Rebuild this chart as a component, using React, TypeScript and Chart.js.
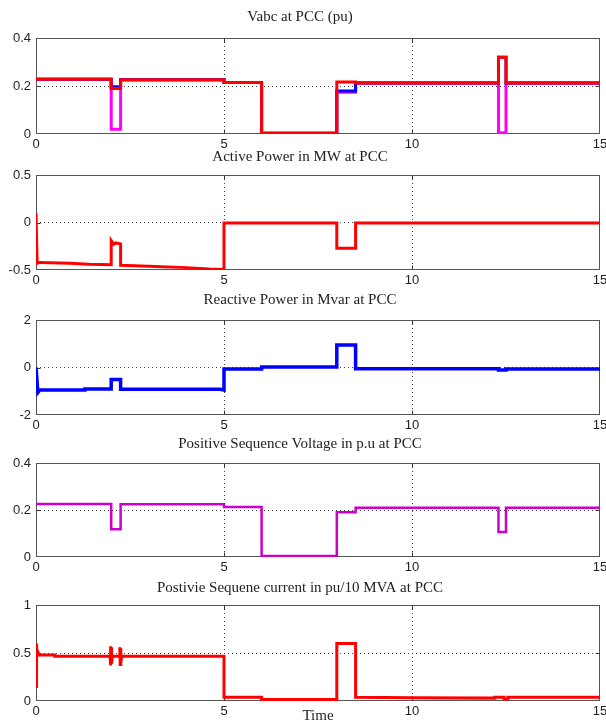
import { useEffect, useRef } from 'react';
import { Chart, registerables } from 'chart.js';

Chart.register(...registerables);

// ---------- data ----------
const timeTicks = [0, 5, 10, 15];

// Vabc at PCC (pu)
const vabcTicks = [0, 0.2, 0.4];
const vabcTime = [0, 2.0, 2.0, 2.25, 2.25, 5.0, 5.0, 6.0, 6.0, 8.0, 8.0, 8.5, 8.5, 12.3, 12.3, 12.5, 12.5, 15];
const phaseA = [0.228, 0.228, 0.19, 0.19, 0.226, 0.226, 0.215, 0.215, 0.003, 0.003, 0.217, 0.217, 0.212, 0.212, 0.32, 0.32, 0.212, 0.212];
const phaseB = [0.228, 0.228, 0.197, 0.197, 0.226, 0.226, 0.215, 0.215, 0.003, 0.003, 0.179, 0.179, 0.212, 0.212, 0.32, 0.32, 0.212, 0.212];
const phaseC = [0.228, 0.228, 0.02, 0.02, 0.226, 0.226, 0.215, 0.215, 0.003, 0.003, 0.174, 0.174, 0.212, 0.212, 0.005, 0.005, 0.212, 0.212];

// Active power in MW
const activeTicks = [-0.5, 0, 0.5];
const activeTime = [0, 0.03, 0.1, 0.9, 1.4, 2.0, 2.0, 2.07, 2.12, 2.25, 2.25, 3.0, 4.0, 4.6, 5.0, 5.0, 8.0, 8.0, 8.5, 8.5, 15];
const activeMW = [0.1, -0.43, -0.42, -0.43, -0.44, -0.445, -0.19, -0.23, -0.215, -0.225, -0.45, -0.46, -0.475, -0.49, -0.495, -0.005, -0.005, -0.27, -0.27, -0.005, -0.005];

// Reactive power in Mvar
const reactiveTicks = [-2, 0, 2];
const reactiveTime = [0, 0.05, 0.1, 1.3, 1.3, 2.0, 2.0, 2.25, 2.25, 4.9, 5.0, 5.0, 6.0, 6.0, 8.0, 8.0, 8.5, 8.5, 12.3, 12.3, 12.5, 12.5, 15];
const reactiveMvar = [0, -1.05, -0.95, -0.95, -0.9, -0.9, -0.5, -0.5, -0.92, -0.92, -0.95, -0.06, -0.06, 0.02, 0.02, 0.95, 0.95, -0.05, -0.05, -0.1, -0.1, -0.06, -0.06];

// Positive sequence voltage in p.u
const posVoltTicks = [0, 0.2, 0.4];
const posVoltTime = [0, 2.0, 2.0, 2.25, 2.25, 5.0, 5.0, 6.0, 6.0, 8.0, 8.0, 8.5, 8.5, 12.3, 12.3, 12.5, 12.5, 15];
const posVolt = [0.226, 0.226, 0.118, 0.118, 0.225, 0.225, 0.213, 0.213, 0.004, 0.004, 0.19, 0.19, 0.21, 0.21, 0.106, 0.106, 0.21, 0.21];

// Positive sequence current in pu/10 MVA
const posCurTicks = [0, 0.5, 1];
const posCurTime = [0, 0.01, 0.02, 0.04, 0.08, 0.5, 0.5, 1.97, 1.98, 1.99, 2.0, 2.01, 2.03, 2.22, 2.23, 2.24, 2.25, 2.26, 2.28, 5.0, 5.0, 6.0, 6.0, 8.0, 8.0, 8.5, 8.5, 10, 12.2, 12.2, 12.45, 12.45, 12.55, 12.55, 15];
const posCur = [0.15, 0.6, 0.44, 0.52, 0.48, 0.48, 0.465, 0.465, 0.57, 0.37, 0.56, 0.39, 0.465, 0.465, 0.56, 0.38, 0.55, 0.4, 0.465, 0.465, 0.04, 0.04, 0.015, 0.015, 0.6, 0.6, 0.04, 0.035, 0.03, 0.04, 0.04, 0.02, 0.02, 0.04, 0.04];

// ---------- layout / style ----------
type Series = { t: number[]; v: number[]; color: string; width: number };
type PanelDef = {
  title: string;
  top: number;
  bottom: number;
  gap: number;
  yTicks: number[];
  series: Series[];
  xTitle?: string;
  xH?: number;
};

const W = 606;
const TITLE_LH = 18;
const X_AXIS_H = 18;
const SERIF = "'Liberation Serif', 'DejaVu Serif', serif";
const SANS = "'Liberation Sans', Arial, sans-serif";

// series listed top-most first (Chart.js paints dataset 0 last)
const panels: PanelDef[] = [
  {
    title: 'Vabc at PCC (pu)', top: 38, bottom: 134, gap: 21, yTicks: vabcTicks,
    series: [
      { t: vabcTime, v: phaseA, color: '#ff0000', width: 3 },
      { t: vabcTime, v: phaseB, color: '#0000ff', width: 3 },
      { t: vabcTime, v: phaseC, color: '#ff00ff', width: 3 },
    ],
  },
  {
    title: 'Active Power in MW at PCC', top: 175, bottom: 270, gap: 18, yTicks: activeTicks,
    series: [{ t: activeTime, v: activeMW, color: '#ff0000', width: 3 }],
  },
  {
    title: 'Reactive Power in Mvar at PCC', top: 320, bottom: 415, gap: 20, yTicks: reactiveTicks,
    series: [{ t: reactiveTime, v: reactiveMvar, color: '#0000ff', width: 3.5 }],
  },
  {
    title: 'Positive Sequence Voltage in p.u at PCC', top: 463, bottom: 557, gap: 19, yTicks: posVoltTicks,
    series: [{ t: posVoltTime, v: posVolt, color: '#cc00cc', width: 2.5 }],
  },
  {
    title: 'Postivie Sequene current in pu/10 MVA at PCC', top: 605, bottom: 701, gap: 17, yTicks: posCurTicks,
    series: [{ t: posCurTime, v: posCur, color: '#ff0000', width: 3 }],
    xTitle: 'Time', xH: 23,
  },
];

const framePlugin = {
  id: 'matlabFrame',
  beforeDatasetsDraw(chart: any) {
    const { ctx, chartArea: a, scales } = chart;
    const l = Math.round(a.left) + 0.5;
    const t = Math.round(a.top) + 0.5;
    const r = Math.round(a.right) - 0.5;
    const b = Math.round(a.bottom) - 0.5;
    ctx.save();
    ctx.setLineDash([]);
    ctx.lineWidth = 1;
    ctx.strokeStyle = '#555555';
    ctx.strokeRect(l, t, r - l, b - t);
    ctx.strokeStyle = '#333333';
    const L = 4;
    ctx.beginPath();
    scales.x.ticks.forEach((tk: any) => {
      const px = Math.round(scales.x.getPixelForValue(tk.value)) + 0.5;
      if (px <= l + 1 || px >= r - 1) return;
      ctx.moveTo(px, b); ctx.lineTo(px, b - L);
      ctx.moveTo(px, t); ctx.lineTo(px, t + L);
    });
    scales.y.ticks.forEach((tk: any) => {
      const py = Math.round(scales.y.getPixelForValue(tk.value)) + 0.5;
      if (py <= t + 1 || py >= b - 1) return;
      ctx.moveTo(l, py); ctx.lineTo(l + L, py);
      ctx.moveTo(r, py); ctx.lineTo(r - L, py);
    });
    ctx.stroke();
    ctx.restore();
  },
};

function Panel({ def }: { def: PanelDef }) {
  const ref = useRef<HTMLCanvasElement | null>(null);
  const xH = def.xH ?? X_AXIS_H;
  const padBottom = def.gap - TITLE_LH / 2;
  const titleBlock = TITLE_LH + padBottom;
  const height = titleBlock + (def.bottom - def.top) + xH;

  useEffect(() => {
    if (!ref.current) return;
    const yMin = def.yTicks[0];
    const yMax = def.yTicks[def.yTicks.length - 1];
    const chart = new Chart(ref.current, {
      type: 'line',
      data: {
        datasets: def.series.map((s) => ({
          data: s.t.map((x, i) => ({ x, y: s.v[i] })),
          borderColor: s.color,
          backgroundColor: s.color,
          borderWidth: s.width,
          pointRadius: 0,
          tension: 0,
          fill: false,
          borderJoinStyle: 'miter' as const,
        })),
      },
      options: {
        responsive: false,
        animation: false,
        events: [],
        layout: { padding: { left: 0, right: 6, top: 0, bottom: 0 } },
        plugins: {
          legend: { display: false },
          tooltip: { enabled: false },
          title: {
            display: true,
            text: def.title,
            color: '#222222',
            font: { family: SERIF, size: 15, weight: 'normal', lineHeight: TITLE_LH + 'px' },
            padding: { top: 0, bottom: padBottom },
          },
        },
        scales: {
          x: {
            type: 'linear',
            min: 0,
            max: 15,
            afterBuildTicks: (sc: any) => { sc.ticks = timeTicks.map((value) => ({ value })); },
            afterFit: (sc: any) => { sc.height = xH; sc.paddingLeft = 0; sc.paddingRight = 0; },
            ticks: {
              color: '#222222',
              font: { family: SANS, size: 13 },
              padding: 3,
              maxRotation: 0,
              autoSkip: false,
              callback: (v: any) => String(v),
            },
            grid: {
              drawTicks: false,
              lineWidth: 1,
              color: (c: any) => (c.tick && (c.tick.value === 0 || c.tick.value === 15) ? 'rgba(0,0,0,0)' : '#444444'),
            },
            border: { display: false, dash: [1, 3] },
            title: def.xTitle
              ? { display: true, text: def.xTitle, color: '#222222', font: { family: SERIF, size: 15, lineHeight: '16px' }, padding: 0 }
              : { display: false },
          },
          y: {
            type: 'linear',
            min: yMin,
            max: yMax,
            afterBuildTicks: (sc: any) => { sc.ticks = def.yTicks.map((value) => ({ value })); },
            afterFit: (sc: any) => { sc.width = 36; sc.paddingTop = 0; sc.paddingBottom = 0; },
            ticks: {
              color: '#222222',
              font: { family: SANS, size: 13 },
              padding: 5,
              autoSkip: false,
              callback: (v: any) => String(v),
            },
            grid: {
              drawTicks: false,
              lineWidth: 1,
              color: (c: any) => (c.tick && (c.tick.value === yMin || c.tick.value === yMax) ? 'rgba(0,0,0,0)' : '#444444'),
            },
            border: { display: false, dash: [1, 3] },
          },
        },
      },
      plugins: [framePlugin],
    } as any);
    return () => chart.destroy();
  }, [def]);

  return (
    <div style={{ position: 'absolute', left: 0, top: def.top - titleBlock, width: W, height }}>
      <canvas ref={ref} width={W} height={height} style={{ display: 'block' }} />
    </div>
  );
}

export default function App() {
  return (
    <div style={{ position: 'fixed', left: 0, top: 0, width: W, height: 722, overflow: 'hidden', background: '#ffffff' }}>
      {panels.map((p) => (
        <Panel key={p.title} def={p} />
      ))}
    </div>
  );
}
